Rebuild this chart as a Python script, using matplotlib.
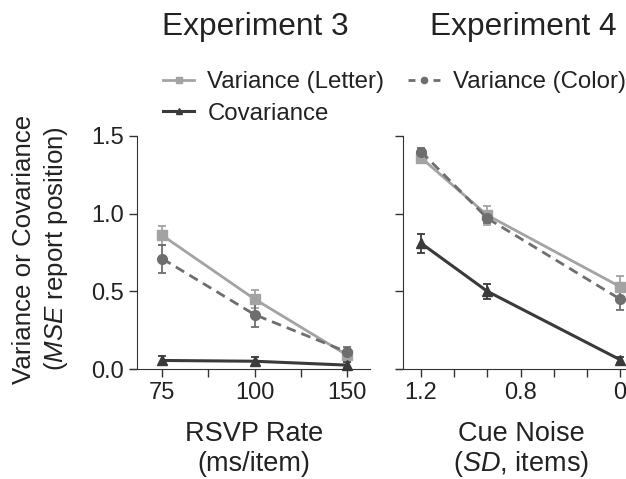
import numpy as np
import matplotlib
matplotlib.use("Agg")
import matplotlib.pyplot as plt
from matplotlib.lines import Line2D

plt.rcParams['font.family'] = ['Liberation Sans', 'DejaVu Sans']
plt.rcParams['mathtext.fontset'] = 'custom'
plt.rcParams['mathtext.rm'] = 'Liberation Sans'
plt.rcParams['mathtext.it'] = 'Liberation Sans:italic'

# Experiment 3: RSVP rate (ms/item)
rsvp_labels = ['75', '100', '150']
e3_letter = [0.86, 0.45, 0.09]
e3_letter_err = [0.06, 0.06, 0.03]
e3_color = [0.71, 0.35, 0.11]
e3_color_err = [0.09, 0.08, 0.03]
e3_cov = [0.055, 0.05, 0.025]
e3_cov_err = [0.03, 0.025, 0.02]

# Experiment 4: cue noise (SD, items)
noise_labels = ['1.2', '', '', '0.8', '', '', '0']
noise_slots = [0, 2, 6]   # tick slot of each condition
e4_letter = [1.36, 0.99, 0.53]
e4_letter_err = [0.03, 0.06, 0.07]
e4_color = [1.40, 0.97, 0.45]
e4_color_err = [0.02, 0.03, 0.07]
e4_cov = [0.81, 0.50, 0.06]
e4_cov_err = [0.06, 0.05, 0.02]

c_letter = '#a3a3a3'
c_color = '#6e6e6e'
c_cov = '#3a3a3a'
txt = '#222222'
dash = (0, (3.5, 2.2))

fig = plt.figure(figsize=(6.26, 4.79), dpi=100)
W, H = 626, 479
ax1 = fig.add_axes([130 / W, 1 - 369 / H, 240 / W, 233 / H])
ax2 = fig.add_axes([396 / W, 1 - 369 / H, 230 / W, 233 / H])


def draw(ax, x, letter, letter_err, color, color_err, cov, cov_err):
    kw = dict(capsize=3, elinewidth=1.3, capthick=1.3, ms=7)
    ax.errorbar(x, letter, yerr=letter_err, color=c_letter, lw=2, marker='s', **kw)
    ax.errorbar(x, color, yerr=color_err, color=c_color, lw=2, ls=dash, marker='o', **kw)
    ax.errorbar(x, cov, yerr=cov_err, color=c_cov, lw=2.2, marker='^', **kw)


draw(ax1, [0, 2, 4], e3_letter, e3_letter_err, e3_color, e3_color_err, e3_cov, e3_cov_err)
draw(ax2, noise_slots, e4_letter, e4_letter_err, e4_color, e4_color_err, e4_cov, e4_cov_err)

for ax in (ax1, ax2):
    ax.set_ylim(0, 1.5)
    ax.set_yticks([0, 0.5, 1.0, 1.5])
    for s in ('top', 'right'):
        ax.spines[s].set_visible(False)
    ax.spines['left'].set_color('#333333')
    ax.spines['bottom'].set_color('#333333')
    ax.tick_params(direction='out', length=6, width=1, colors='#333333', labelsize=17,
                   labelcolor=txt)
    for l in ax.get_lines():
        l.set_clip_on(False)

ax1.set_xlim(-0.7, 4.5)
ax1.spines['left'].set_position(('data', -0.55))
ax1.set_xticks(range(5))
ax1.set_xticklabels([rsvp_labels[0], '', rsvp_labels[1], '', rsvp_labels[2]])
ax1.set_yticklabels(['0.0', '0.5', '1.0', '1.5'])

ax2.set_xlim(-0.754, 6.18)
ax2.spines['left'].set_position(('data', -0.54))
ax2.set_xticks(range(7))
ax2.set_xticklabels(noise_labels)
ax2.set_yticklabels([])

# axis labels
fig.text(24 / W, 1 - 249 / H, 'Variance or Covariance', rotation=90, fontsize=18.6,
         ha='center', va='center', color=txt)
fig.text(56 / W, 1 - 249 / H, '($\\it{MSE}$ report position)', rotation=90, fontsize=18.6,
         ha='center', va='center', color=txt)
fig.text(254 / W, 1 - 441 / H, 'RSVP Rate', fontsize=19.5, ha='center', va='baseline', color=txt)
fig.text(254 / W, 1 - 471 / H, '(ms/item)', fontsize=19.5, ha='center', va='baseline', color=txt)
fig.text(521 / W, 1 - 441 / H, 'Cue Noise', fontsize=19.5, ha='center', va='baseline', color=txt)
fig.text(521 / W, 1 - 471 / H, '($\\it{SD}$, items)', fontsize=19.5, ha='center', va='baseline', color=txt)

fig.text(255 / W, 1 - 35 / H, 'Experiment 3', fontsize=22.8, ha='center', va='baseline', color=txt)
fig.text(523 / W, 1 - 35 / H, 'Experiment 4', fontsize=22.8, ha='center', va='baseline', color=txt)

handles = [Line2D([], [], color=c_letter, lw=2, marker='s', ms=4.5),
           Line2D([], [], color=c_cov, lw=2.2, marker='^', ms=4.5),
           Line2D([], [], color=c_color, lw=2, ls=(0, (2.5, 2)), marker='o', ms=4.5)]
leg = fig.legend(handles, ['Variance (Letter)', 'Covariance', 'Variance (Color)'],
                 ncol=2, loc='upper left', bbox_to_anchor=(163 / W, 1 - 71 / H), frameon=False,
                 fontsize=17.3, handlelength=1.3, handletextpad=0.55, columnspacing=1.0,
                 labelspacing=0.4, borderaxespad=0, borderpad=0)
for t in leg.get_texts():
    t.set_color(txt)

fig.savefig('out.png', dpi=100)
